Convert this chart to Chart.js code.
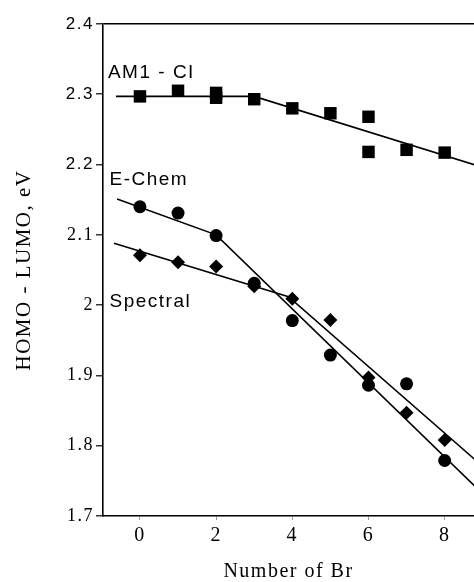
<!DOCTYPE html>
<html><head><meta charset="utf-8">
<script src="https://cdn.jsdelivr.net/npm/chart.js@4/dist/chart.umd.min.js"></script>
<style>html,body{margin:0;padding:0;background:#fff}#wrap{width:474px;height:582px}</style>
</head><body><div id="wrap"><canvas id="c" width="474" height="582"></canvas></div>
<script>
// Data
const am1X = [0, 1, 2, 2, 3, 4, 5, 6, 6, 7, 8];
const am1Y = [2.297, 2.305, 2.302, 2.295, 2.293, 2.280, 2.273, 2.268, 2.218, 2.221, 2.217];
const nBr = [0, 1, 2, 3, 4, 5, 6, 7, 8];
const echemY = [2.140, 2.131, 2.099, 2.031, 1.978, 1.929, 1.886, 1.888, 1.779];
const spectralY = [2.071, 2.061, 2.055, 2.027, 2.009, 1.979, 1.897, 1.847, 1.808];
const am1FitX = [-0.63, 3, 8.8];
const am1FitY = [2.297, 2.297, 2.1995];
const echemFitX = [-0.6, 2, 8.8];
const echemFitY = [2.151, 2.100, 1.742];
const spectralFitX = [-0.68, 3.9, 8.8];
const spectralFitY = [2.088, 2.012, 1.780];
const xTicks = [0, 2, 4, 6, 8];
const yTicks = [1.7, 1.8, 1.9, 2.0, 2.1, 2.2, 2.3, 2.4];
const seriesNames = ['AM1 - CI', 'E-Chem', 'Spectral'];
const nameX = [-0.84, -0.8, -0.8];
const nameY = [2.330, 2.178, 2.005];

const pts = (xs, ys) => xs.map((x, i) => ({x, y: ys[i]}));

const fitStyle = {showLine: true, pointRadius: 0, borderColor: '#000', borderWidth: 1.6, fill: false, tension: 0};
const markStyle = {showLine: false, backgroundColor: '#000', borderColor: '#000', borderWidth: 0};

const namesPlugin = {
  id: 'names',
  afterDatasetsDraw(chart) {
    const {ctx, scales: {x, y}} = chart;
    ctx.save();
    ctx.letterSpacing = '1.5px';
    ctx.fillStyle = '#000';
    ctx.font = '19px "Liberation Sans", Arial, sans-serif';
    ctx.textBaseline = 'middle';
    ctx.textAlign = 'left';
    seriesNames.forEach((t, i) => ctx.fillText(t, x.getPixelForValue(nameX[i]), y.getPixelForValue(nameY[i])));
    ctx.restore();
  }
};
const spacingPlugin = {
  id: 'spacing',
  beforeDraw(chart) { chart.ctx.letterSpacing = '1.5px'; }
};

new Chart(document.getElementById('c'), {
  type: 'scatter',
  data: {
    datasets: [
      {...fitStyle, data: pts(am1FitX, am1FitY)},
      {...fitStyle, data: pts(echemFitX, echemFitY)},
      {...fitStyle, data: pts(spectralFitX, spectralFitY)},
      {...markStyle, data: pts(am1X, am1Y), pointStyle: 'rect', pointRadius: 8.8},
      {...markStyle, data: pts(nBr, echemY), pointStyle: 'circle', pointRadius: 6.5},
      {...markStyle, data: pts(nBr, spectralY), pointStyle: 'rectRot', pointRadius: 7}
    ]
  },
  options: {
    responsive: false,
    animation: false,
    events: [],
    layout: {autoPadding: false, padding: {top: 24, right: 0, bottom: 0, left: 0}},
    plugins: {legend: {display: false}, tooltip: {enabled: false}},
    scales: {
      x: {
        type: 'linear', min: -0.97, max: 8.77,
        afterBuildTicks: s => { s.ticks = xTicks.map(v => ({value: v})); },
        afterFit: s => { s.height = 66; s.paddingLeft = 0; s.paddingRight = 0; },
        border: {display: true, color: '#000', width: 1.6},
        grid: {drawOnChartArea: false, drawTicks: true, tickLength: 4, tickColor: '#999', tickWidth: 1},
        ticks: {color: '#000', padding: 4, maxRotation: 0, font: {family: '"Liberation Serif", "Times New Roman", serif', size: 20}},
        title: {display: true, text: 'Number of Br', color: '#000', padding: {top: 0, bottom: 0},
                font: {family: '"Liberation Serif", "Times New Roman", serif', size: 20, lineHeight: 1}}
      },
      y: {
        type: 'linear', min: 1.7, max: 2.4,
        afterBuildTicks: s => { s.ticks = yTicks.map(v => ({value: v})); },
        afterFit: s => { s.width = 103; s.paddingTop = 0; s.paddingBottom = 0; },
        border: {display: true, color: '#000', width: 1.6},
        grid: {
          drawOnChartArea: true, drawTicks: true, tickLength: 7, tickColor: '#000', tickWidth: 1.2,
          color: c => (c.tick && Math.abs(c.tick.value - 2.4) < 1e-9) ? '#000' : 'rgba(0,0,0,0)',
          lineWidth: 1.6
        },
        ticks: {
          color: '#000', padding: 2,
          callback: v => String(Math.round(v * 10) / 10),
          font: c => (c.tick && c.tick.value > 2.15)
            ? {family: '"Liberation Sans", Arial, sans-serif', size: 17}
            : {family: '"Liberation Serif", "Times New Roman", serif', size: 18}
        },
        title: {display: true, text: 'HOMO - LUMO, eV', color: '#000', padding: {top: 12, bottom: 0},
                font: {family: '"Liberation Serif", "Times New Roman", serif', size: 21}}
      }
    }
  },
  plugins: [spacingPlugin, namesPlugin]
});
</script></body></html>
